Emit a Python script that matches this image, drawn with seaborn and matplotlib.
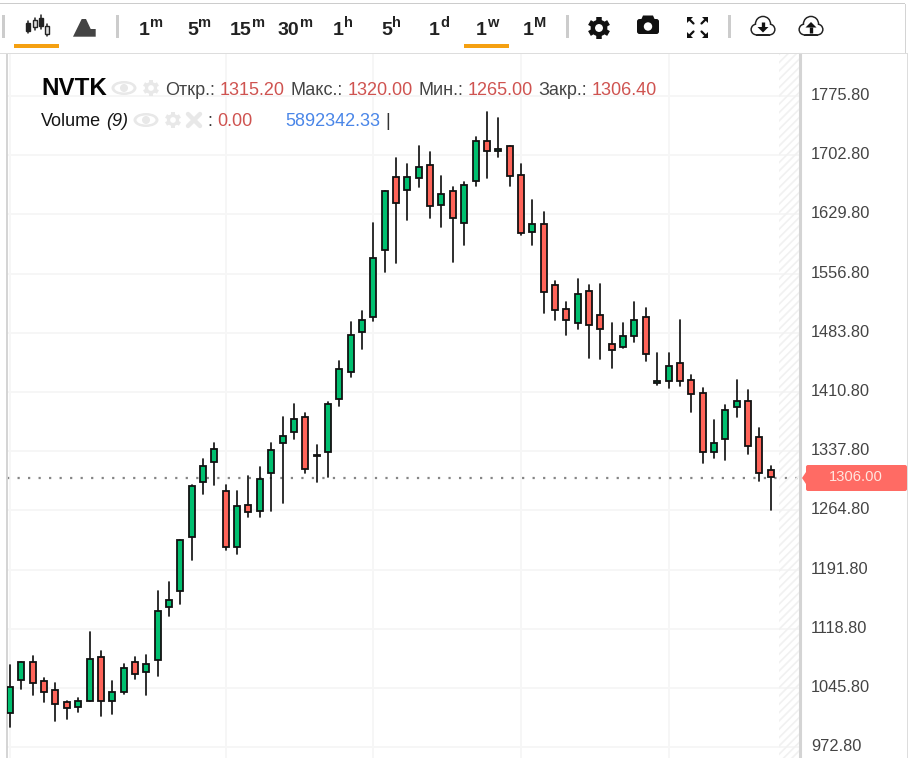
"""Redraw of the NVTK weekly candlestick screen."""

import matplotlib

matplotlib.use("Agg")
import matplotlib.pyplot as plt
import numpy as np
import pandas as pd
import seaborn as sns
from matplotlib.patches import Circle, Ellipse, FancyBboxPatch, Polygon, Rectangle
from matplotlib.transforms import ScaledTranslation

OPEN = [1015, 1056, 1078, 1054, 1043, 1028, 1022, 1030, 1084, 1030, 1041, 1078, 1065, 1080, 1146, 1165, 1231.6,
        1300, 1324, 1289, 1220, 1272, 1264, 1311, 1348, 1361, 1379.6, 1331.5, 1337, 1401.8, 1435, 1484.8, 1503,
        1586.4, 1675.5, 1660.3, 1675, 1690.3, 1641.8, 1658.7, 1619.7, 1671.4, 1720, 1708.4, 1714, 1678.8, 1608.6,
        1618, 1542.4, 1512.8, 1496, 1535, 1505.7, 1470, 1465.9, 1479.4, 1503.7, 1422.3, 1423.9, 1446, 1426, 1409,
        1336.8, 1353.3, 1392.3, 1400, 1355.3, 1315.2]
HIGH = [1074, 1078, 1085.7, 1057.7, 1052, 1030, 1034, 1115, 1091, 1054, 1076, 1084, 1087, 1165, 1176, 1228, 1296,
        1328, 1348, 1296, 1289, 1307, 1318, 1347.5, 1379.6, 1396, 1385, 1346, 1398, 1449.4, 1497.5, 1511, 1619.7,
        1659, 1699.8, 1692, 1714, 1706.8, 1677, 1664, 1670, 1725, 1756.5, 1749, 1714, 1692, 1647.6, 1632.8, 1547.7,
        1521.8, 1549.8, 1542.4, 1544, 1496, 1496, 1521.8, 1514.4, 1459.3, 1459.3, 1500, 1431.4, 1415.3, 1375.9,
        1394.4, 1426, 1412.9, 1366.4, 1320]
LOW = [998, 1044, 1037, 1029, 1005, 1007, 1016, 1030, 1011, 1014, 1039, 1057, 1037, 1061, 1135, 1150, 1203.6, 1285,
       1296, 1216, 1211, 1257, 1257, 1264.5, 1274, 1353, 1311, 1300, 1306.4, 1393.5, 1429, 1464, 1498.8, 1558.4,
       1569.5, 1623, 1663, 1625, 1614, 1571, 1591.7, 1665, 1674.7, 1700, 1665, 1604.5, 1591.7, 1508.7, 1499.2,
       1480.7, 1488, 1453.2, 1451, 1440, 1464.6, 1472.9, 1449.4, 1419.4, 1415.3, 1418.2, 1386, 1323.3, 1329, 1327,
       1380.4, 1334.4, 1301, 1265]
CLOSE = [1047, 1078, 1052, 1041, 1026, 1021, 1030, 1082, 1030, 1041, 1071, 1063, 1075, 1141, 1154, 1228, 1294.4,
         1320, 1340, 1220, 1270, 1263, 1304, 1339, 1356, 1377, 1316, 1333, 1396, 1438.8, 1481, 1499.6, 1575.7,
         1658.7, 1643.9, 1675.5, 1688.3, 1640, 1655, 1625.4, 1666, 1720, 1708.4, 1710, 1676.8, 1606.5, 1618,
         1534.6, 1512.4, 1499.6, 1531.3, 1493.9, 1488, 1462.6, 1479.4, 1500, 1457.2, 1423.9, 1442.4, 1423.9, 1408.7,
         1336.8, 1347.9, 1388.6, 1400, 1344.2, 1310.9, 1306.4]

PRICE_TICKS = [972.8, 1045.8, 1118.8, 1191.8, 1264.8, 1337.8, 1410.8, 1483.8, 1556.8, 1629.8, 1702.8, 1775.8]
TIME_TICKS = [0, 19, 32, 45, 58]
LAST_PRICE = 1306.0
INTERVALS = [("1", "m", 139), ("5", "m", 187), ("15", "m", 230), ("30", "m", 278), ("1", "h", 333),
             ("5", "h", 381), ("1", "d", 429), ("1", "w", 476), ("1", "M", 523)]

WIDTH, HEIGHT = 915, 758
GREEN = "#00bf6f"
RED = "#ff6459"
LABEL_RED = "#cf5350"
LABEL_DARK = "#444444"
ICON_GREY = "#e8e8e8"
LINE_GREY = "#d4d4d4"
GRID = "#f6f6f6"

sns.set_theme(style="white")
plt.rcParams["font.family"] = ["Liberation Sans", "DejaVu Sans"]
plt.rcParams["hatch.linewidth"] = 1.2

fig = plt.figure(figsize=(WIDTH / 100, HEIGHT / 100), dpi=100, facecolor="white")
ax = fig.add_axes([7 / WIDTH, 0, 793 / WIDTH, 704 / HEIGHT])

candles = pd.DataFrame({"open": OPEN, "high": HIGH, "low": LOW, "close": CLOSE})
candles["idx"] = candles.index

# wicks go through seaborn, one line per candle
wicks = candles.melt(id_vars="idx", value_vars=["low", "high"], value_name="price").sort_values("idx")
sns.lineplot(data=wicks, x="idx", y="price", units="idx", estimator=None, sort=False, color="#151515",
             linewidth=1.25, ax=ax, zorder=3, legend=False)

bottoms = candles[["open", "close"]].min(axis=1)
heights = (candles["close"] - candles["open"]).abs()
colors = [GREEN if c >= o else RED for o, c in zip(OPEN, CLOSE)]
ax.bar(candles["idx"], heights, bottom=bottoms, width=0.53, color=colors, edgecolor="#111111", linewidth=1.3, zorder=4)

# the dotted line sits a pixel below its value on the original screen
last_line = ax.axhline(LAST_PRICE, color="#858585", linewidth=1.6, linestyle=(0, (1, 3.73)), zorder=2)
last_line.set_transform(last_line.get_transform() + ScaledTranslation(0, -1 / 100, fig.dpi_scale_trans))

ax.set_xlim(-0.27, 69.58)
ax.set_ylim(959.5, 1827.6)
ax.set_xlabel("")
ax.set_ylabel("")
ax.set_xticks(TIME_TICKS)
ax.set_xticklabels([])
ax.set_yticks(PRICE_TICKS)
ax.set_yticklabels([f"{p:.2f}" for p in PRICE_TICKS])
ax.yaxis.tick_right()
ax.tick_params(axis="y", length=0, pad=7.9, labelsize=11.8, labelcolor=LABEL_DARK)
ax.tick_params(axis="x", length=0)
ax.grid(True, color=GRID, linewidth=1.4, zorder=0)
ax.set_axisbelow(True)
for label in ax.get_yticklabels():
    label.set_transform(label.get_transform() + ScaledTranslation(0, 2 / 100, fig.dpi_scale_trans))
for name, spine in ax.spines.items():
    spine.set_visible(name in ("left", "right"))
    spine.set_color(LINE_GREY)
ax.spines["left"].set_linewidth(1.4)
ax.spines["right"].set_linewidth(2.2)

# everything around the chart is placed in screen pixels
ui = fig.add_axes([0, 0, 1, 1], facecolor="none")
ui.set_xlim(0, WIDTH)
ui.set_ylim(HEIGHT, 0)
ui.axis("off")


def rect(x, y, w, h, color, **kwargs):
    ui.add_patch(Rectangle((x, y), w, h, facecolor=color, edgecolor="none", **kwargs))


def circle(x, y, r, color, zorder=3):
    ui.add_patch(Circle((x, y), r, facecolor=color, edgecolor="none", zorder=zorder))


def gear(x, y, r, color, hole="white"):
    for angle in np.arange(0, np.pi, np.pi / 3) + np.pi / 2:
        dx, dy = r * np.cos(angle), r * np.sin(angle)
        ui.plot([x - dx, x + dx], [y - dy, y + dy], color=color, lw=r * 0.36, solid_capstyle="butt", zorder=2)
    circle(x, y, r * 0.76, color)
    circle(x, y, r * 0.36, hole)


def eye(x, y, color):
    ui.add_patch(Ellipse((x, y), 25, 14, facecolor=color, edgecolor="none", zorder=2))
    ui.add_patch(Ellipse((x, y), 19, 9, facecolor="white", edgecolor="none", zorder=3))
    circle(x, y, 4, color, zorder=4)


def cloud(x, y, upward):
    bumps = [(x, y - 3, 6.8), (x - 6.5, y + 2.5, 4.6), (x + 6.5, y + 2.5, 4.6)]
    for bx, by, r in bumps:
        circle(bx, by, r + 1.5, "#222222", zorder=2)
    rect(x - 7, y + 1, 14, 7.6, "#222222", zorder=2)
    for bx, by, r in bumps:
        circle(bx, by, r, "white", zorder=3)
    rect(x - 7, y + 1, 14, 6.1, "white", zorder=3)
    if upward:
        head = [(x - 5.5, y + 0.5), (x + 5.5, y + 0.5), (x, y - 5)]
        stem = [y, y + 5.5]
    else:
        head = [(x - 5.5, y), (x + 5.5, y), (x, y + 5.5)]
        stem = [y - 5, y + 0.5]
    ui.add_patch(Polygon(head, facecolor="#111111", edgecolor="none", zorder=4))
    ui.plot([x, x], stem, color="#111111", lw=2.4, solid_capstyle="butt", zorder=4)


# frame and hatch
ui.add_patch(Rectangle((779, 54), 20, 704, facecolor="none", edgecolor="#f1f1f1", hatch="////", linewidth=0))
rect(0, 3, 905, 1.2, "#cccccc")
rect(0, 53, 908, 1.2, "#dddddd")
rect(905, 4, 1.2, 49, "#d4d4d4")
rect(907, 53, 1.2, 705, "#dddddd")

# toolbar
for sep_x in (3, 117, 567, 729):
    rect(sep_x - 1.5, 15, 3, 23, "#cccccc")
for bar_x in (14, 464):
    rect(bar_x, 44, 45, 4, "#f5a011")

for cx, wick, body, filled in [(28, (21, 33), (22.5, 31), True), (34.7, (17.5, 30), (19.5, 27), False),
                               (40.7, (15, 29), (17.5, 26), True), (47, (23.5, 36), (26, 34), False)]:
    ui.plot([cx, cx], wick, color="#222222", lw=1.1, zorder=2)
    ui.add_patch(Rectangle((cx - 2, body[0]), 4, body[1] - body[0], facecolor="#222222" if filled else "#dddddd",
                           edgecolor="#222222", linewidth=1.0, zorder=3))
ui.add_patch(Polygon([(73, 36.7), (81.7, 19), (86, 19), (90.7, 29), (95.7, 29), (95.7, 36.7)],
                     facecolor="#444444", edgecolor="none"))

for major, minor, x in INTERVALS:
    ui.text(x, 35, major, fontsize=14, fontweight="bold", color="#222222", va="baseline", ha="left")
    tail = x + 10.3 * len(major) + 1
    ui.text(tail, 27, minor, fontsize=10.5, fontweight="bold", color="#222222", va="baseline", ha="left")

gear(599, 28, 11, "#111111")

ui.add_patch(FancyBboxPatch((637, 19), 22, 15, boxstyle="round,pad=0,rounding_size=2.5", facecolor="#111111",
                            edgecolor="none", zorder=2))
ui.add_patch(Polygon([(641, 20), (643, 15.5), (653, 15.5), (655, 20)], facecolor="#111111", edgecolor="none", zorder=2))
circle(648, 26.5, 4.2, "white")

for cx, cy, sx, sy in [(687, 17, 1, 1), (708, 17, -1, 1), (687, 38, 1, -1), (708, 38, -1, -1)]:
    ui.add_patch(Polygon([(cx, cy), (cx + 6 * sx, cy), (cx, cy + 6 * sy)], facecolor="#111111", edgecolor="none"))
    ui.plot([cx + 2 * sx, cx + 6.5 * sx], [cy + 2 * sy, cy + 6.5 * sy], color="#111111", lw=1.6)

cloud(763, 27, upward=False)
cloud(811, 27, upward=True)

# legend lines
ui.text(41, 95, "NVTK", fontsize=17.4, fontweight="bold", color="#050505", va="baseline")
eye(124, 88, ICON_GREY)
gear(151, 88, 8, ICON_GREY)
for x, text, color in [(165, "Откр.:", LABEL_DARK), (220, "1315.20", LABEL_RED), (290.5, "Макс.:", LABEL_DARK),
                       (348, "1320.00", LABEL_RED), (418, "Мин.:", LABEL_DARK), (468, "1265.00", LABEL_RED),
                       (538, "Закр.:", LABEL_DARK), (592, "1306.40", LABEL_RED)]:
    ui.text(x, 95, text, fontsize=13, color=color, va="baseline")

ui.text(41, 126, "Volume", fontsize=13, color="#151515", va="baseline")
ui.text(106, 126, "(9)", fontsize=13, style="italic", color="#151515", va="baseline")
eye(146, 120, ICON_GREY)
gear(173, 120, 8, ICON_GREY)
ui.plot([188, 200], [114, 126], color=ICON_GREY, lw=3.2)
ui.plot([188, 200], [126, 114], color=ICON_GREY, lw=3.2)
ui.text(207, 126, ":", fontsize=13, color="#333333", va="baseline")
ui.text(217, 126, "0.00", fontsize=13, color=LABEL_RED, va="baseline")
ui.text(285, 126, "5892342.33", fontsize=13, color="#4a86e8", va="baseline")
ui.text(385, 126, "|", fontsize=13, color="#333333", va="baseline")

# last price tag
ui.add_patch(FancyBboxPatch((806, 465), 101, 26, boxstyle="round,pad=0,rounding_size=2", facecolor="#ff6b64",
                            edgecolor="none"))
ui.add_patch(Polygon([(806, 472), (802, 478), (806, 484)], facecolor="#ff6b64", edgecolor="none"))
ui.text(856, 477, f"{LAST_PRICE:.2f}", fontsize=10.6, color="#ffe6df", ha="center", va="center")

fig.savefig("out.png", dpi=100)
plt.close(fig)
